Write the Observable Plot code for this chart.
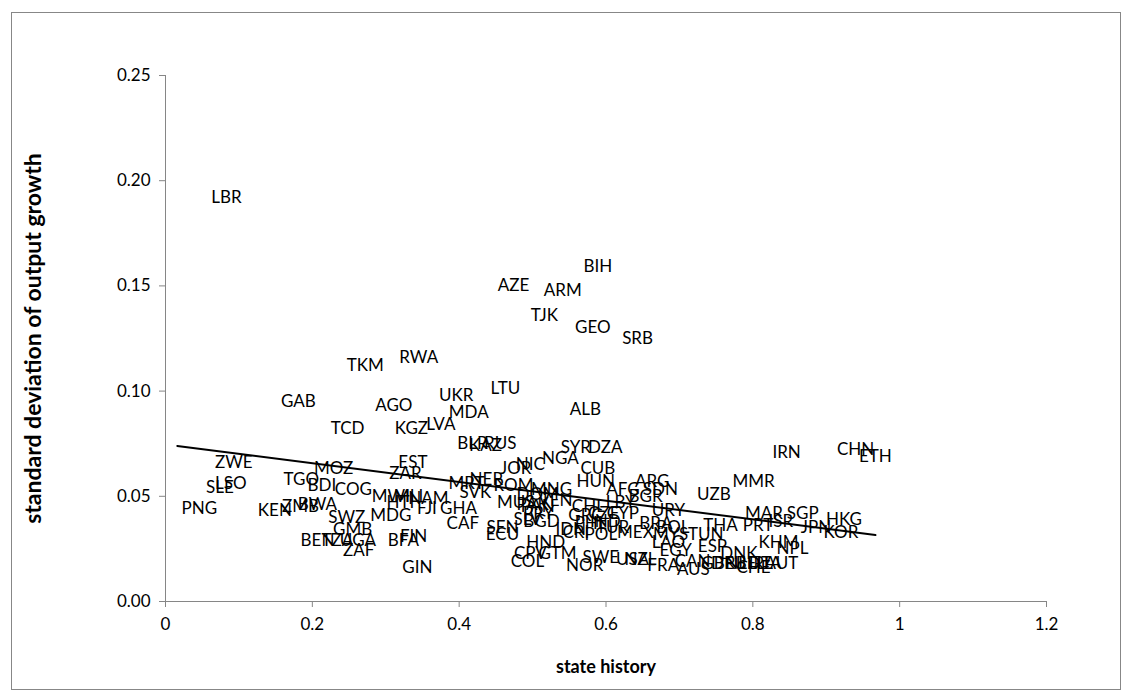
<!DOCTYPE html>
<html><head><meta charset="utf-8">
<script src="https://cdn.jsdelivr.net/npm/d3@7"></script>
<script src="https://cdn.jsdelivr.net/npm/@observablehq/plot@0.6"></script>
<style>
body{margin:0;background:#fff;}
#wrap{position:relative;width:1133px;height:692px;overflow:hidden;}
#border{position:absolute;left:11px;top:12px;width:1110px;height:678px;border:1px solid #878787;box-sizing:border-box;pointer-events:none;}
#wrap svg{position:absolute;left:0;top:0;}
</style></head><body><div id="wrap"><div id="border"></div></div>
<script>
const countries = ["LBR","BIH","AZE","ARM","TJK","GEO","SRB","RWA","TKM","LTU","UKR","GAB","AGO","ALB","MDA","LVA","TCD","KGZ","BLR","KAZ","RUS","SYR","DZA","IRN","CHN","ETH","NGA","NIC","ZWE","EST","JOR","CUB","MOZ","ZAR","TGO","NER","MRT","HUN","ARG","MMR","LSO","ROM","SLE","BDI","COG","SVK","AFG","SDN","BGR","LBY","UZB","MWI","MLI","NAM","HTI","PNG","KEN","ZMB","BWA","SWZ","MDG","FJI","GHA","CAF","GMB","BEN","TZA","UGA","ZAF","BFA","FIN","GIN","SEN","ECU","HND","CPV","GTM","COL","SWE","NOR","USA","NZL","FRA","AUS","CAN","EGY","ESP","DNK","GBR","DEU","NLD","BEL","IRL","ITA","AUT","CHE","KHM","NPL","THA","PRT","MAR","SGP","ISR","HKG","JPN","KOR","TUN","MYS","LAO","URY","BRA","BOL","MEX","CHL","CZE","CYP","GRC","PHL","IND","TUR","CRI","POL","MNG","DOM","MUS","PAN","PRY","SLV","BGD","PAK","IDN","VEN"];
const stateHistory = [0.083,0.589,0.474,0.541,0.516,0.582,0.643,0.345,0.272,0.463,0.396,0.181,0.311,0.572,0.413,0.375,0.248,0.335,0.418,0.436,0.456,0.559,0.599,0.846,0.940,0.967,0.538,0.497,0.093,0.337,0.477,0.589,0.229,0.327,0.185,0.437,0.410,0.586,0.663,0.801,0.089,0.474,0.074,0.213,0.256,0.422,0.623,0.674,0.654,0.620,0.747,0.307,0.331,0.358,0.320,0.046,0.149,0.184,0.207,0.247,0.307,0.356,0.399,0.405,0.255,0.207,0.234,0.262,0.263,0.324,0.338,0.343,0.459,0.459,0.518,0.497,0.534,0.493,0.593,0.571,0.636,0.647,0.678,0.719,0.718,0.695,0.745,0.781,0.753,0.767,0.786,0.797,0.811,0.822,0.839,0.801,0.835,0.854,0.756,0.807,0.815,0.868,0.838,0.924,0.886,0.920,0.736,0.688,0.685,0.685,0.668,0.691,0.640,0.576,0.597,0.623,0.572,0.579,0.599,0.609,0.559,0.593,0.526,0.507,0.477,0.507,0.508,0.493,0.512,0.500,0.552,0.531];
const sdGrowth = [0.192,0.159,0.150,0.148,0.136,0.130,0.125,0.116,0.112,0.101,0.098,0.095,0.093,0.091,0.090,0.084,0.082,0.082,0.075,0.074,0.075,0.073,0.073,0.071,0.072,0.069,0.068,0.065,0.066,0.066,0.063,0.063,0.063,0.061,0.058,0.058,0.056,0.057,0.057,0.057,0.056,0.055,0.054,0.055,0.053,0.052,0.053,0.053,0.050,0.047,0.051,0.050,0.050,0.049,0.047,0.044,0.043,0.045,0.046,0.040,0.041,0.044,0.044,0.037,0.034,0.029,0.029,0.029,0.024,0.029,0.031,0.016,0.035,0.032,0.028,0.023,0.023,0.019,0.021,0.017,0.020,0.020,0.017,0.015,0.019,0.024,0.026,0.023,0.018,0.018,0.018,0.018,0.018,0.018,0.018,0.016,0.028,0.025,0.036,0.036,0.042,0.042,0.038,0.039,0.035,0.033,0.032,0.032,0.028,0.043,0.037,0.035,0.033,0.045,0.042,0.042,0.041,0.037,0.038,0.035,0.033,0.032,0.053,0.051,0.047,0.045,0.042,0.039,0.038,0.046,0.034,0.048];
const trendX = [0.016, 0.967];
const trendY = [0.0739, 0.0316];
const xTicks = [0, 0.2, 0.4, 0.6, 0.8, 1, 1.2];
const yTicks = [0, 0.05, 0.10, 0.15, 0.20, 0.25];
const xTitle = "state history";
const yTitle = "standard deviation of output growth";

const points = countries.map((c, i) => ({c, x: stateHistory[i], y: sdGrowth[i]}));
const trend = trendX.map((x, i) => ({x, y: trendY[i]}));

const chart = Plot.plot({
  width: 1133, height: 692,
  marginLeft: 165, marginRight: 87, marginTop: 75, marginBottom: 91,
  style: {fontFamily: "Lato, sans-serif", fontSize: "17px", color: "#000", background: "transparent"},
  x: {domain: [0, 1.2]},
  y: {domain: [0, 0.25]},
  marks: [
    Plot.axisX({ticks: xTicks, tickFormat: d => String(d), tickSize: 6, tickPadding: 10, stroke: "#868686", label: null, fontSize: 17}),
    Plot.axisY({ticks: yTicks, tickFormat: d3.format(".2f"), tickSize: 6, tickPadding: 9, stroke: "#868686", label: null, fontSize: 17}),
    Plot.ruleY([0], {stroke: "#868686"}),
    Plot.ruleX([0], {stroke: "#868686"}),
    Plot.text(points, {x: "x", y: "y", text: "c", fontSize: 17, fill: "#000"}),
    Plot.line(trend, {x: "x", y: "y", stroke: "#000", strokeWidth: 2}),
    Plot.text([xTitle], {text: d => d, frameAnchor: "bottom", textAnchor: "middle", lineAnchor: "middle", dy: 66, fontWeight: "bold", fontSize: 18, fill: "#000"}),
    Plot.text([yTitle], {text: d => d, frameAnchor: "left", textAnchor: "middle", lineAnchor: "middle", dx: -132, rotate: -90, fontWeight: "bold", fontSize: 23, fill: "#000"})
  ]
});
document.getElementById("wrap").appendChild(chart);
</script>
</body></html>
